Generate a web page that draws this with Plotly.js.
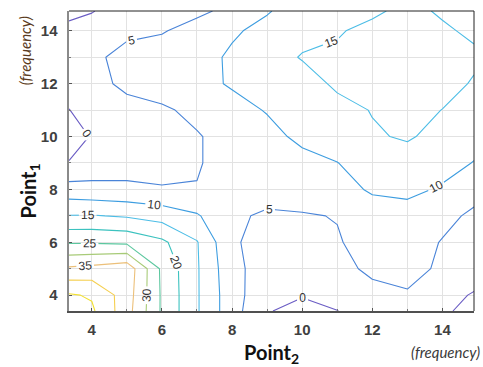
<!DOCTYPE html>
<html>
<head>
<meta charset="utf-8">
<script src="https://cdn.plot.ly/plotly-3.0.1.min.js"></script>
<style>
  html, body { margin: 0; padding: 0; background: #ffffff; }
  #chart { width: 483px; height: 367px; }
</style>
</head>
<body>
<div id="chart"></div>
<script>
// Grid coordinates (Point 2 along x, Point 1 along y)
const point2 = [3.35, 4, 5, 6, 7, 8, 9, 10, 11, 12, 13, 14, 14.9];
const point1 = [3.4, 4, 5, 6, 7, 8, 9, 10, 11, 12, 13, 14, 14.75];

// Surface values, one row per Point 1 value (bottom to top)
const zRowY03_4 = [50, 45.8, 37, 24.3, 15.5, 7, 0.3, -1.5, -0.1, 3, 4, 1.5, -3];
const zRowY04   = [45.5, 44.5, 37.5, 24.3, 15.5, 7, 1.5, 0.3, 2, 3.5, 4.7, 2, -0.5];
const zRowY05   = [35.8, 36.5, 38.3, 24, 15.5, 6.5, 2.5, 3.5, 3.5, 6, 6, 4.5, 3];
const zRowY06   = [24.5, 24.5, 24, 21, 15.3, 5.5, 3.5, 3.8, 4.6, 7, 7.5, 4.7, 4];
const zRowY07   = [15.2, 15.3, 14.5, 13, 10.5, 5.8, 4.3, 4.6, 5.2, 8, 9, 6.5, 4];
const zRowY08   = [7, 6.5, 6, 5.3, 5.2, 7, 7, 7.5, 8.5, 10.5, 10.6, 9.7, 7];
const zRowY09   = [0.2, 2, 3, 3.5, 4.6, 7, 7.5, 8.5, 9.9, 12.5, 13, 11, 9.9];
const zRowY10   = [-2, 0.3, 3, 4, 4.7, 6.5, 8.5, 11.1, 12.5, 14.5, 15.5, 13.5, 11];
const zRowY11   = [-0.1, 2, 3.5, 4.4, 6, 8.3, 10.3, 12, 13.5, 15.2, 17, 14.9, 13];
const zRowY12   = [2, 3.5, 6, 7, 8.5, 10.5, 11.5, 13, 15.8, 17, 17.5, 17, 14.5];
const zRowY13   = [2, 4, 6.5, 7, 8, 10.8, 13, 15.3, 16, 17, 17, 16.5, 16];
const zRowY14   = [0.8, 2.5, 4, 4.7, 6.5, 9.3, 11.5, 13.5, 14.5, 16.5, 17, 15.8, 14];
const zRowY14_75 = [-0.8, -0.3, 3, 4, 4.2, 6, 9.6, 12.5, 13.5, 14, 16.5, 14.3, 12];

const levelStart = 0, levelEnd = 45, levelStep = 5;
const xTicks = [4, 6, 8, 10, 12, 14];
const yTicks = [4, 6, 8, 10, 12, 14];

const zGrid = [zRowY03_4, zRowY04, zRowY05, zRowY06, zRowY07, zRowY08, zRowY09,
               zRowY10, zRowY11, zRowY12, zRowY13, zRowY14, zRowY14_75];

const parulaLike = [
  [0.000, '#6a5cc4'],
  [0.111, '#4a84d8'],
  [0.222, '#3d9de0'],
  [0.333, '#4cbde6'],
  [0.444, '#3cc2bf'],
  [0.556, '#5cc79f'],
  [0.667, '#a8cb78'],
  [0.778, '#ecc07a'],
  [0.889, '#f5cf50'],
  [1.000, '#f2e030']
];

const trace = {
  type: 'contour',
  x: point2,
  y: point1,
  z: zGrid,
  autocontour: false,
  contours: {
    start: levelStart, end: levelEnd, size: levelStep,
    coloring: 'lines',
    showlabels: true,
    labelfont: { family: 'Liberation Sans, Arial, sans-serif', size: 12, color: '#333333' }
  },
  line: { width: 1.1, smoothing: 0 },
  colorscale: parulaLike,
  zmin: levelStart, zmax: levelEnd,
  showscale: false,
  hoverinfo: 'skip'
};

const tickFont = { family: 'Liberation Sans, Arial, sans-serif', size: 15, color: '#404040', weight: 'bold' };

const layout = {
  width: 483, height: 367,
  margin: { l: 69, r: 9, t: 11, b: 56 },
  paper_bgcolor: '#ffffff',
  plot_bgcolor: '#ffffff',
  showlegend: false,
  xaxis: {
    range: [point2[0], point2[point2.length - 1]],
    tickmode: 'array', tickvals: xTicks,
    tickfont: tickFont,
    ticks: 'inside', ticklen: 3, tickcolor: '#555555',
    showgrid: true, gridcolor: '#e2e2e2', gridwidth: 1,
    minor: { dtick: 1, tick0: 0, showgrid: true, gridcolor: '#e2e2e2', gridwidth: 1, ticks: 'inside', ticklen: 2, tickcolor: '#777777' },
    showline: true, linecolor: '#505050', linewidth: 2,
    zeroline: false, ticklabelstandoff: 4
  },
  yaxis: {
    range: [point1[0], point1[point1.length - 1]],
    tickmode: 'array', tickvals: yTicks,
    tickfont: tickFont,
    ticks: 'inside', ticklen: 3, tickcolor: '#555555',
    showgrid: true, gridcolor: '#e2e2e2', gridwidth: 1,
    minor: { dtick: 1, tick0: 0, showgrid: true, gridcolor: '#e2e2e2', gridwidth: 1, ticks: 'inside', ticklen: 2, tickcolor: '#777777' },
    showline: true, linecolor: '#8a8a8a', linewidth: 2.5,
    zeroline: false, ticklabelstandoff: 6
  },
  shapes: [
    { type: 'line', xref: 'paper', yref: 'paper', x0: 0, x1: 1, y0: 1, y1: 1, line: { color: '#222222', width: 1 } },
    { type: 'line', xref: 'paper', yref: 'paper', x0: 1, x1: 1, y0: 0, y1: 1, line: { color: '#222222', width: 1 } }
  ],
  annotations: [
    { text: 'Point<sub>2</sub>', xref: 'paper', yref: 'paper', x: 0.5, y: -0.14, xanchor: 'center', yanchor: 'middle',
      showarrow: false, font: { family: 'Lato, Open Sans, sans-serif', size: 20, color: '#111111', weight: 'bold' } },
    { text: '(frequency)', xref: 'paper', yref: 'paper', x: 1.02, y: -0.137, xanchor: 'right', yanchor: 'middle',
      showarrow: false, font: { family: 'Lato, Open Sans, sans-serif', size: 15, color: '#3a3a3a', style: 'italic' } },
    { text: 'Point<sub>1</sub>', xref: 'paper', yref: 'paper', x: -0.1, y: 0.40, xanchor: 'center', yanchor: 'middle',
      textangle: -90, showarrow: false, font: { family: 'Lato, Open Sans, sans-serif', size: 20, color: '#111111', weight: 'bold' } },
    { text: '(frequency)', xref: 'paper', yref: 'paper', x: -0.11, y: 0.867, xanchor: 'center', yanchor: 'middle',
      textangle: -90, showarrow: false, font: { family: 'Lato, Open Sans, sans-serif', size: 15, color: '#5a3a20', style: 'italic' } }
  ]
};

Plotly.newPlot('chart', [trace], layout, { staticPlot: true, displayModeBar: false });
</script>
</body>
</html>
